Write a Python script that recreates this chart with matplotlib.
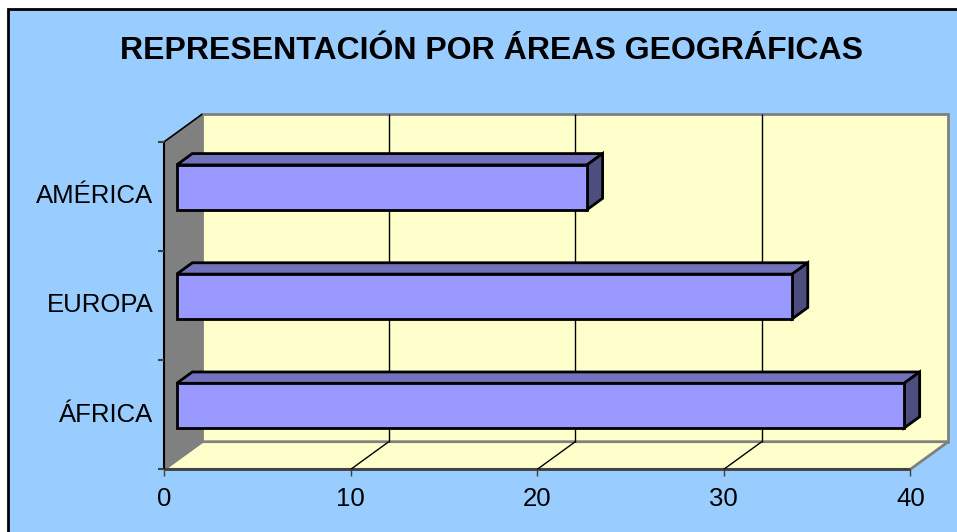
import matplotlib
matplotlib.use("Agg")
import matplotlib.pyplot as plt
from matplotlib.patches import Polygon, Rectangle

# Data
categories = ["ÁFRICA", "EUROPA", "AMÉRICA"]
values = [39, 33, 22]
x_ticks = [0, 10, 20, 30, 40]
title = "REPRESENTACIÓN POR ÁREAS GEOGRÁFICAS"

plt.rcParams["font.family"] = ["Liberation Sans", "DejaVu Sans"]

W, H = 957, 532
fig = plt.figure(figsize=(W / 100, H / 100), dpi=100)
fig.patch.set_facecolor("white")

# chart area (light blue with black frame, running off the right/bottom edge)
fig.patches.append(Rectangle((8 / W, -0.05), 1.1, 1 - 9 / H + 0.05,
                             transform=fig.transFigure, facecolor="#99CCFF",
                             edgecolor="black", lw=2, zorder=-5))

# front plane of the 3-D box
px_x = 18.65          # pixels per value unit
px_y = 109.2          # pixels per category
x0_px, y0_px = 164.3, 469.3
xmax = x_ticks[-1]
ncat = len(categories)
ax = fig.add_axes([x0_px / W, (H - y0_px) / H, xmax * px_x / W, ncat * px_y / H])
ax.set_zorder(1)
ax.set_xlim(0, xmax)
ax.set_ylim(0, ncat)
ax.axis("off")

# depth offset (back minus front) in data units
dx = 38 / px_x
dy = 27.6 / px_y

def poly(pts, fc, ec, lw, z):
    ax.add_patch(Polygon(pts, closed=True, facecolor=fc, edgecolor=ec, lw=lw,
                         zorder=z, clip_on=False, joinstyle="miter"))

def line(xs, ys, c, lw, z):
    ax.plot(xs, ys, color=c, lw=lw, zorder=z, clip_on=False, solid_capstyle="butt")

# walls
poly([(dx, dy), (xmax + dx, dy), (xmax + dx, ncat + dy), (dx, ncat + dy)],
     "#FFFFCC", "#808080", 2.0, 1)
poly([(0, 0), (xmax, 0), (xmax + dx, dy), (dx, dy)], "#FFFFCC", "#808080", 2.0, 1)
poly([(0, 0), (dx, dy), (dx, ncat + dy), (0, ncat)], "#808080", "none", 0, 1.5)
line([0, dx], [ncat, ncat + dy], "black", 1.2, 1.6)
line([0, xmax], [0, 0], "#404040", 2.0, 1.7)

# gridlines on back wall and floor
for t in x_ticks[1:-1]:
    line([t + dx, t + dx], [dy, ncat + dy], "black", 1.0, 2)
    line([t, t + dx], [0, dy], "black", 1.0, 2)

# value axis ticks and labels
for t in x_ticks:
    line([t, t], [0, -7 / px_y], "#404040", 1.0, 2)
    ax.text(t, -(506 - y0_px) / px_y, str(t), ha="center", va="baseline",
            fontsize=18.5, color="black")

# category axis
line([0, 0], [0, ncat], "black", 1.5, 2)
for k in range(ncat + 1):
    line([-6.5 / px_x, 0], [k, k], "#404040", 1.5, 2)
for i, c in enumerate(categories):
    ax.text(-11 / px_x, i + 0.5 - 7 / px_y, c, ha="right", va="baseline",
            fontsize=18.5, color="black")

# 3-D bars
f_front, f_back = 0.326, 0.737
half = 0.205
for i, v in enumerate(values):
    fx, fy = f_front * dx, f_front * dy
    bx, by = f_back * dx, f_back * dy
    bot_f, top_f = i + 0.5 - half + fy, i + 0.5 + half + fy
    bot_b, top_b = i + 0.5 - half + by, i + 0.5 + half + by
    ax.barh(i + 0.5 + fy, v, height=2 * half, left=fx, color="#9999FF",
            edgecolor="black", lw=2, zorder=5, clip_on=False)
    poly([(fx, top_f), (v + fx, top_f), (v + bx, top_b), (bx, top_b)],
         "#7373BD", "black", 2, 4)
    poly([(v + fx, bot_f), (v + fx, top_f), (v + bx, top_b), (v + bx, bot_b)],
         "#4D4D80", "black", 2, 4)

fig.text(492 / W, 1 - 59.3 / H, title, ha="center", va="baseline",
         fontsize=23, fontweight="bold", color="black")

fig.savefig("out.png", dpi=100, facecolor=fig.get_facecolor())
